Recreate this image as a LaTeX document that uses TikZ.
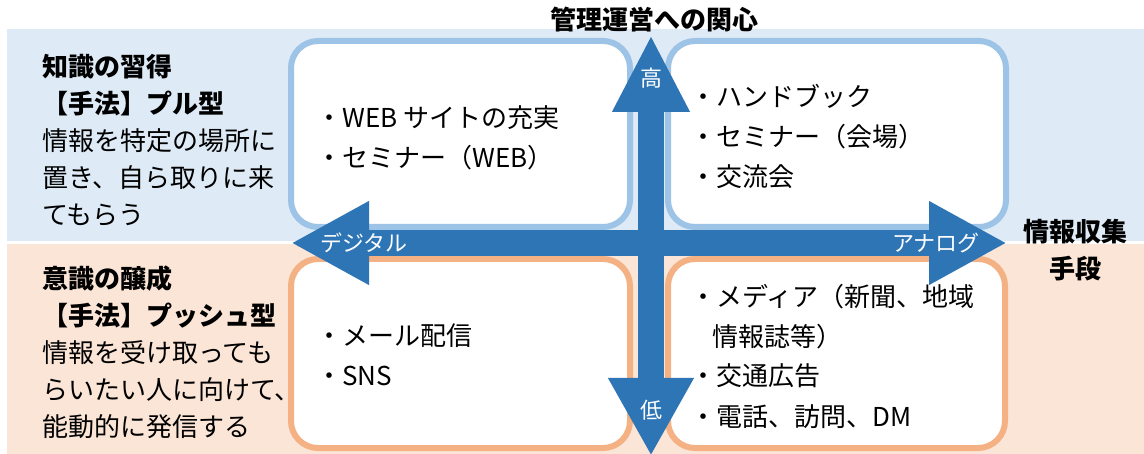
\documentclass[tikz,border=0pt]{standalone}
\usepackage{fontspec}
\setmainfont{Noto Sans CJK JP}
\usetikzlibrary{arrows.meta}
\definecolor{bandblue}{HTML}{DEEBF7}
\definecolor{bandpeach}{HTML}{FBE5D6}
\definecolor{rimblue}{HTML}{9DC3E6}
\definecolor{rimpeach}{HTML}{F4B183}
\definecolor{axisblue}{HTML}{2E75B6}

\begin{document}
\begin{tikzpicture}[
  x=1pt, y=-1pt,
  font=\fontsize{26}{37}\selectfont,
  heading/.style={font=\bfseries\fontsize{26}{37}\selectfont},
  sidenote/.style={anchor=base west, align=left, inner sep=0pt},
  boxitem/.style={anchor=base west, align=left, inner sep=0pt, font=\fontsize{26}{40}\selectfont},
  quadbox/.style={fill=white, line width=6pt, rounded corners=27pt},
  axisarrow/.style={draw=axisblue, line width=26pt,
    {Triangle[length=78pt,width=78pt]}-{Triangle[length=78pt,width=78pt]}},
  axislabel/.style={text=white, inner sep=0pt, font=\fontsize{22}{26}\selectfont}
]
  \useasboundingbox (0,0) rectangle (1144,454);

  % two bands: pull type above, push type below
  \fill[bandblue] (7,29) rectangle (1144,241);
  \fill[bandpeach] (7,244) rectangle (1144,454);

  % quadrant boxes
  \draw[quadbox, draw=rimblue] (291,41) rectangle (630,227);
  \draw[quadbox, draw=rimblue] (668,41) rectangle (1006,227);
  \draw[quadbox, draw=rimpeach] (291,259) rectangle (630,448);
  \draw[quadbox, draw=rimpeach] (668,259) rectangle (1005,448);

  % axes (base anchors below sit on the last line of each block)
  \coordinate (low) at (651,456);
  \coordinate (high) at (651,35);
  \coordinate (digital) at (291,243);
  \coordinate (analog) at (1007,243);
  \draw[axisarrow, {Triangle[length=78pt,width=80pt]}-{Triangle[length=77pt,width=72pt]}] (low) -- (high);
  \draw[axisarrow] (digital) -- (analog);

  \node[axislabel] (hiLabel) at (651,78) {高};
  \node[axislabel] (loLabel) at (651,410) {低};
  \node[axislabel, anchor=west] (digLabel) at (320,243) {デジタル};
  \node[axislabel, anchor=east] (anaLabel) at (980,243) {アナログ};

  \node[heading] (interest) at (654,20) {管理運営への関心};
  \node[heading, align=center] (means) at (1075,250) {情報収集\\手段};

  % left side notes
  \node[sidenote] (pull) at (42,225) {{\bfseries 知識の習得}\\
    {\bfseries 【手法】プル型}\\
    情報を特定の場所に\\
    置き、自ら取りに来\\
    てもらう};
  \node[sidenote] (push) at (42,436) {{\bfseries 意識の醸成}\\
    {\bfseries 【手法】プッシュ型}\\
    情報を受け取っても\\
    らいたい人に向けて、\\
    能動的に発信する};

  % items in each quadrant
  \node[boxitem] (hiDig) at (316,168) {・WEB サイトの充実\\
    ・セミナー（WEB）};
  \node[boxitem] (hiAna) at (690,187) {・ハンドブック\\
    ・セミナー（会場）\\
    ・交流会};
  \node[boxitem] (loDig) at (316,386) {・メール配信\\
    ・SNS};
  \node[boxitem] (loAna) at (690,426) {・メディア（新聞、地域\\
    \hspace*{22pt}情報誌等）\\
    ・交通広告\\
    ・電話、訪問、DM};
\end{tikzpicture}
\end{document}
